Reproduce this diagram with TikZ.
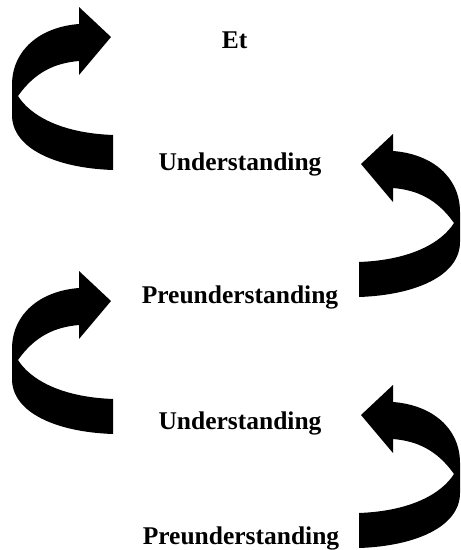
\documentclass[tikz,border=0pt]{standalone}
\usepackage{fontspec}
\setmainfont{Liberation Serif}
\tikzset{
  lbl/.style={anchor=base, inner sep=0pt, font=\fontsize{25.5}{30}\selectfont\bfseries},
  ribbonarrow/.pic={
    \fill[black]
      (79,24) .. controls (40,27) and (12,50) .. (12,85)
      -- (12,115) .. controls (12,148) and (55,168) .. (113,170)
      -- (113,135) .. controls (60,133) and (30,115) .. (18,96)
      .. controls (35,72) and (55,63) .. (79,61)
      -- (79,75) -- (111,37) -- (79,7) -- cycle;
  }
}
\begin{document}
\begin{tikzpicture}[x=1pt,y=-1pt]
\useasboundingbox (0,0) rectangle (461,550);
\pic at (0,0) {ribbonarrow};
\pic[xscale=-1] at (472,127) {ribbonarrow};
\pic at (0,264) {ribbonarrow};
\pic[xscale=-1] at (472,378) {ribbonarrow};
\node[lbl] (et) at (234.5,48) {Et};
\node[lbl] (u1) at (240,170) {Understanding};
\node[lbl] (p1) at (240,303) {Preunderstanding};
\node[lbl] (u2) at (240,429) {Understanding};
\node[lbl] (p2) at (241,544) {Preunderstanding};
\end{tikzpicture}
\end{document}
